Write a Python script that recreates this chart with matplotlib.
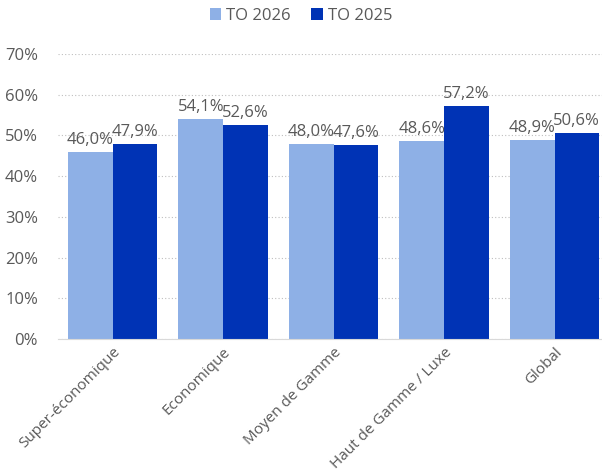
import numpy as np
import matplotlib.pyplot as plt
from matplotlib.ticker import FuncFormatter

categories = ["Super-économique", "Economique", "Moyen de Gamme", "Haut de Gamme / Luxe", "Global"]
to_2026 = [46.0, 54.1, 48.0, 48.6, 48.9]
to_2025 = [47.9, 52.6, 47.6, 57.2, 50.6]

c26 = "#8EB0E6"
c25 = "#0033B5"
grey = "#595959"

plt.rcParams["font.family"] = ["Open Sans", "DejaVu Sans"]
fs = 12

fig = plt.figure(figsize=(6.02, 4.76), dpi=100)
ax = fig.add_axes([57.5 / 602, 1 - 339 / 476, 544.5 / 602, 285 / 476])

x = np.arange(len(categories))
w = 0.405
b1 = ax.bar(x - w / 2, to_2026, w, color=c26, label="TO 2026", zorder=2)
b2 = ax.bar(x + w / 2, to_2025, w, color=c25, label="TO 2025", zorder=2)

for bars, vals in ((b1, to_2026), (b2, to_2025)):
    for r, v in zip(bars, vals):
        ax.text(r.get_x() + r.get_width() / 2, v + 1.0, f"{v:.1f}%".replace(".", ","),
                ha="center", va="bottom", fontsize=fs, color=grey)

ax.set_ylim(0, 70)
ax.set_xlim(-0.5, 4.43)
ax.set_yticks(range(0, 71, 10))
ax.yaxis.set_major_formatter(FuncFormatter(lambda v, p: f"{int(v)}%"))
ax.grid(axis="y", color="#BFBFBF", linestyle=(0, (1, 2)), linewidth=0.8, zorder=0)
for s in ["top", "right", "left"]:
    ax.spines[s].set_visible(False)
ax.spines["bottom"].set_color("#D9D9D9")
ax.tick_params(axis="y", length=0, labelsize=fs, colors=grey, pad=14)
ax.set_xticks(x)
ax.set_xticklabels(categories, rotation=45, ha="right", rotation_mode="anchor")
ax.tick_params(axis="x", length=0, labelsize=11, colors=grey, pad=4)

fig.legend(loc="upper center", bbox_to_anchor=(0.5, 1.015), ncol=2, frameon=False,
           fontsize=fs, labelcolor=grey, handlelength=0.7, handleheight=0.7,
           handletextpad=0.3, columnspacing=1.2)

fig.savefig("out.png", dpi=100)
